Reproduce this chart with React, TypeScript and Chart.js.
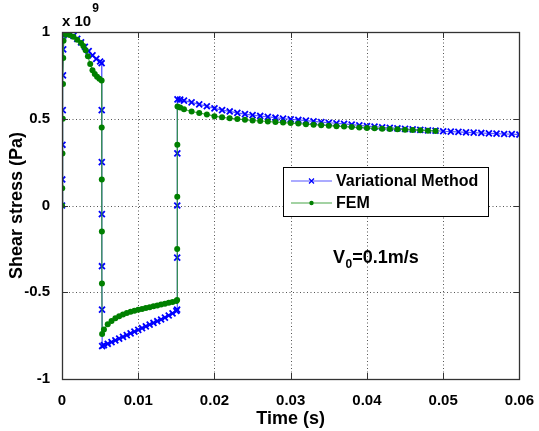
import React, { useEffect, useRef } from 'react';
import { Chart, registerables } from 'chart.js';

Chart.register(...registerables);

// ---- data (stress in units of 1e9 Pa) ----
const seriesNames = ['Variational Method', 'FEM'];

const varTime = [
  0, 0.00003, 0.00006, 0.0001, 0.00013, 0.00016, 0.0002, 0.0005, 0.001, 0.0015,
  0.002, 0.0025, 0.003, 0.0035, 0.004, 0.0045, 0.005, 0.0052,
  0.00521, 0.00522, 0.00523, 0.00524, 0.00525, 0.00527,
  0.0055, 0.006, 0.0065, 0.007, 0.0075, 0.008, 0.0085, 0.009, 0.0095, 0.010,
  0.0105, 0.011, 0.0115, 0.012, 0.0125, 0.013, 0.0135, 0.014, 0.0145, 0.015, 0.0151,
  0.01511, 0.01512, 0.01513, 0.01515,
  0.0155, 0.016, 0.017, 0.018, 0.019, 0.020, 0.021, 0.022, 0.023, 0.024,
  0.025, 0.026, 0.027, 0.028, 0.029, 0.030, 0.031, 0.032, 0.033, 0.034,
  0.035, 0.036, 0.037, 0.038, 0.039, 0.040, 0.041, 0.042, 0.043, 0.044,
  0.045, 0.046, 0.047, 0.048, 0.049, 0.050, 0.051, 0.052, 0.053, 0.054,
  0.055, 0.056, 0.057, 0.058, 0.059, 0.060,
];
const varStress = [
  0, 0.15, 0.35, 0.55, 0.75, 0.9, 0.98, 0.998, 0.99, 0.978,
  0.96, 0.94, 0.915, 0.89, 0.865, 0.845, 0.83, 0.82,
  0.55, 0.25, -0.05, -0.35, -0.6, -0.81,
  -0.805, -0.797, -0.787, -0.777, -0.767, -0.757, -0.747, -0.737, -0.727, -0.717,
  -0.707, -0.697, -0.687, -0.677, -0.667, -0.657, -0.646, -0.634, -0.622, -0.608, -0.6,
  -0.3, 0, 0.3, 0.612,
  0.61, 0.604, 0.594, 0.583, 0.572, 0.56, 0.55, 0.542, 0.534, 0.527,
  0.521, 0.516, 0.511, 0.506, 0.501, 0.497, 0.493, 0.489, 0.485, 0.481,
  0.477, 0.474, 0.47, 0.466, 0.462, 0.458, 0.455, 0.451, 0.448, 0.445,
  0.442, 0.439, 0.436, 0.433, 0.431, 0.428, 0.426, 0.424, 0.422, 0.42,
  0.418, 0.416, 0.414, 0.412, 0.411, 0.409,
];

const femTime = [
  0, 0.00003, 0.00006, 0.0001, 0.00013, 0.00016, 0.0002, 0.0005, 0.001, 0.0015,
  0.002, 0.0025, 0.0028, 0.0031, 0.0034, 0.0037, 0.004, 0.0043, 0.0046, 0.0049, 0.0052,
  0.00521, 0.00522, 0.00523, 0.00524, 0.00526,
  0.0055, 0.006, 0.0065, 0.007, 0.0075, 0.008, 0.0085, 0.009, 0.0095, 0.010,
  0.0105, 0.011, 0.0115, 0.012, 0.0125, 0.013, 0.0135, 0.014, 0.0145, 0.015, 0.0151,
  0.01511, 0.01512, 0.01513, 0.01515,
  0.0155, 0.016, 0.017, 0.018, 0.019, 0.020, 0.021, 0.022, 0.023, 0.024,
  0.025, 0.026, 0.027, 0.028, 0.029, 0.030, 0.031, 0.032, 0.033, 0.034,
  0.035, 0.036, 0.037, 0.038, 0.039, 0.040, 0.041, 0.042, 0.043, 0.044,
  0.045, 0.046, 0.047, 0.048, 0.049,
];
const femStress = [
  0, 0.1, 0.3, 0.5, 0.7, 0.85, 0.95, 0.985, 0.983, 0.972,
  0.955, 0.937, 0.92, 0.895, 0.86, 0.815, 0.78, 0.758, 0.742, 0.73, 0.72,
  0.45, 0.15, -0.15, -0.45, -0.74,
  -0.715, -0.685, -0.665, -0.65, -0.638, -0.628, -0.62, -0.613, -0.607, -0.601,
  -0.596, -0.591, -0.586, -0.581, -0.576, -0.571, -0.566, -0.561, -0.556, -0.55, -0.545,
  -0.25, 0.05, 0.35, 0.57,
  0.565, 0.555, 0.542, 0.533, 0.525, 0.515, 0.508, 0.503, 0.499, 0.494,
  0.49, 0.487, 0.484, 0.481, 0.478, 0.475, 0.472, 0.469, 0.466, 0.463,
  0.46, 0.457, 0.455, 0.452, 0.45, 0.447, 0.445, 0.443, 0.441, 0.439,
  0.437, 0.435, 0.433, 0.431, 0.429,
];

const xTicks = [0, 0.01, 0.02, 0.03, 0.04, 0.05, 0.06];
const yTicks = [-1, -0.5, 0, 0.5, 1];
const xTickLabels = ['0', '0.01', '0.02', '0.03', '0.04', '0.05', '0.06'];
const yTickLabels = ['-1', '-0.5', '0', '0.5', '1'];

const FONT = '"Liberation Sans", Arial, Helvetica, sans-serif';
const BLUE = '#0000ff';
const GREEN = '#008000';

const decorPlugin = {
  id: 'decor',
  beforeDatasetsDraw(chart: any) {
    const { ctx, chartArea: a, scales } = chart;
    const xs = scales.x, ys = scales.y;
    ctx.save();
    ctx.strokeStyle = '#555';
    ctx.lineWidth = 1;
    ctx.setLineDash([1, 2.5]);
    xTicks.forEach((v) => {
      const px = Math.round(xs.getPixelForValue(v)) + 0.5;
      if (px <= a.left + 1 || px >= a.right - 1) return;
      ctx.beginPath();
      ctx.moveTo(px, a.top);
      ctx.lineTo(px, a.bottom);
      ctx.stroke();
    });
    yTicks.forEach((v) => {
      const py = Math.round(ys.getPixelForValue(v)) + 0.5;
      if (py <= a.top + 1 || py >= a.bottom - 1) return;
      ctx.beginPath();
      ctx.moveTo(a.left, py);
      ctx.lineTo(a.right, py);
      ctx.stroke();
    });
    ctx.restore();
  },
  afterDatasetsDraw(chart: any) {
    const { ctx, chartArea: a, scales, data } = chart;
    const xs = scales.x, ys = scales.y;
    ctx.save();
    // box
    ctx.setLineDash([]);
    ctx.strokeStyle = '#333';
    ctx.lineWidth = 1.3;
    ctx.strokeRect(Math.round(a.left) + 0.5, Math.round(a.top) + 0.5, Math.round(a.right - a.left), Math.round(a.bottom - a.top));
    // inner tick marks
    const tl = 6;
    ctx.lineWidth = 1;
    xTicks.forEach((v) => {
      const px = Math.round(xs.getPixelForValue(v)) + 0.5;
      ctx.beginPath();
      ctx.moveTo(px, a.bottom); ctx.lineTo(px, a.bottom - tl);
      ctx.moveTo(px, a.top); ctx.lineTo(px, a.top + tl);
      ctx.stroke();
    });
    yTicks.forEach((v) => {
      const py = Math.round(ys.getPixelForValue(v)) + 0.5;
      ctx.beginPath();
      ctx.moveTo(a.left, py); ctx.lineTo(a.left + tl, py);
      ctx.moveTo(a.right, py); ctx.lineTo(a.right - tl, py);
      ctx.stroke();
    });
    // exponent label
    ctx.fillStyle = '#000';
    ctx.textBaseline = 'alphabetic';
    ctx.textAlign = 'left';
    ctx.font = `bold 15px ${FONT}`;
    ctx.fillText('x 10', a.left, 26);
    const w = ctx.measureText('x 10').width;
    ctx.font = `bold 12px ${FONT}`;
    ctx.fillText('9', a.left + w + 1, 12);

    // legend
    const lx = 283.5, ly = 167.5, lw = 205, lh = 49;
    ctx.fillStyle = '#fff';
    ctx.fillRect(lx, ly, lw, lh);
    ctx.strokeStyle = '#000';
    ctx.lineWidth = 1;
    ctx.strokeRect(lx, ly, lw, lh);
    const rows = [181, 203];
    data.datasets.forEach((ds: any, i: number) => {
      const y = rows[i];
      ctx.strokeStyle = ds.borderColor;
      ctx.lineWidth = 1.2;
      ctx.beginPath();
      ctx.moveTo(291, y); ctx.lineTo(332, y);
      ctx.stroke();
      if (ds.pointStyle === 'crossRot') {
        ctx.strokeStyle = ds.pointBorderColor;
        ctx.beginPath();
        ctx.moveTo(309, y - 2.5); ctx.lineTo(314, y + 2.5);
        ctx.moveTo(309, y + 2.5); ctx.lineTo(314, y - 2.5);
        ctx.stroke();
      } else {
        ctx.fillStyle = ds.pointBackgroundColor;
        ctx.beginPath();
        ctx.arc(311.5, y, 2.2, 0, Math.PI * 2);
        ctx.fill();
      }
      ctx.fillStyle = '#000';
      ctx.font = `bold 16px ${FONT}`;
      ctx.textBaseline = 'middle';
      ctx.textAlign = 'left';
      ctx.fillText(ds.label, 336, y + 0.5);
    });

    // annotation V0=0.1m/s
    ctx.fillStyle = '#000';
    ctx.textBaseline = 'alphabetic';
    ctx.font = `bold 18px ${FONT}`;
    let x = 333;
    const base = 263;
    ctx.fillText('V', x, base);
    x += ctx.measureText('V').width + 0.5;
    ctx.font = `bold 12px ${FONT}`;
    ctx.fillText('0', x, base + 5);
    x += ctx.measureText('0').width;
    ctx.font = `bold 18px ${FONT}`;
    ctx.fillText('=0.1m/s', x, base);
    ctx.restore();
  },
};

export default function App() {
  const ref = useRef<HTMLCanvasElement | null>(null);
  useEffect(() => {
    if (!ref.current) return;
    const chart = new Chart(ref.current, {
      type: 'scatter',
      data: {
        datasets: [
          {
            label: seriesNames[0],
            data: varTime.map((t, i) => ({ x: t, y: varStress[i] })),
            showLine: true,
            borderColor: 'rgba(60,60,255,0.85)',
            borderWidth: 1.2,
            pointStyle: 'crossRot',
            pointRadius: 4.2,
            pointBorderColor: BLUE,
            pointBackgroundColor: BLUE,
            pointBorderWidth: 1.8,
            order: 1,
          },
          {
            label: seriesNames[1],
            data: femTime.map((t, i) => ({ x: t, y: femStress[i] })),
            showLine: true,
            borderColor: 'rgba(40,150,40,0.85)',
            borderWidth: 1.2,
            pointStyle: 'circle',
            pointRadius: 3,
            pointBorderWidth: 0,
            pointBorderColor: GREEN,
            pointBackgroundColor: GREEN,
            order: 0,
          },
        ] as any,
      },
      options: {
        animation: false,
        responsive: false,
        events: [],
        layout: { padding: { top: 32, right: 17, left: 0, bottom: 0 } },
        plugins: { legend: { display: false }, tooltip: { enabled: false } },
        scales: {
          x: {
            type: 'linear',
            min: 0,
            max: 0.06,
            afterBuildTicks: (s: any) => { s.ticks = xTicks.map((v) => ({ value: v })); },
            afterFit: (s: any) => { s.height = 52; },
            grid: { display: false },
            border: { display: false },
            ticks: {
              padding: 5,
              color: '#000',
              maxRotation: 0,
              autoSkip: false,
              font: { family: FONT, size: 15, weight: 'bold' },
              callback: (v: any) => { const i = xTicks.findIndex((t) => Math.abs(t - v) < 1e-9); return i >= 0 ? xTickLabels[i] : ''; },
            },
            title: {
              display: true,
              text: 'Time (s)',
              color: '#000',
              font: { family: FONT, size: 18, weight: 'bold' },
              padding: { top: 0, bottom: 1 },
            },
          },
          y: {
            type: 'linear',
            min: -1,
            max: 1,
            afterBuildTicks: (s: any) => { s.ticks = yTicks.map((v) => ({ value: v })); },
            afterFit: (s: any) => { s.width = 62; },
            grid: { display: false },
            border: { display: false },
            ticks: {
              padding: 4,
              color: '#000',
              autoSkip: false,
              font: { family: FONT, size: 15, weight: 'bold' },
              callback: (v: any) => { const i = yTicks.findIndex((t) => Math.abs(t - v) < 1e-9); return i >= 0 ? yTickLabels[i] : ''; },
            },
            title: {
              display: true,
              text: 'Shear stress (Pa)',
              color: '#000',
              font: { family: FONT, size: 18, weight: 'bold' },
              padding: { top: 6, bottom: 0 },
            },
          },
        },
      } as any,
      plugins: [decorPlugin],
    });
    return () => chart.destroy();
  }, []);
  return (
    <div style={{ position: 'fixed', left: 0, top: 0, width: 539, height: 431, background: '#fff' }}>
      <canvas ref={ref} width={539} height={431} style={{ display: 'block', width: 539, height: 431 }} />
    </div>
  );
}
